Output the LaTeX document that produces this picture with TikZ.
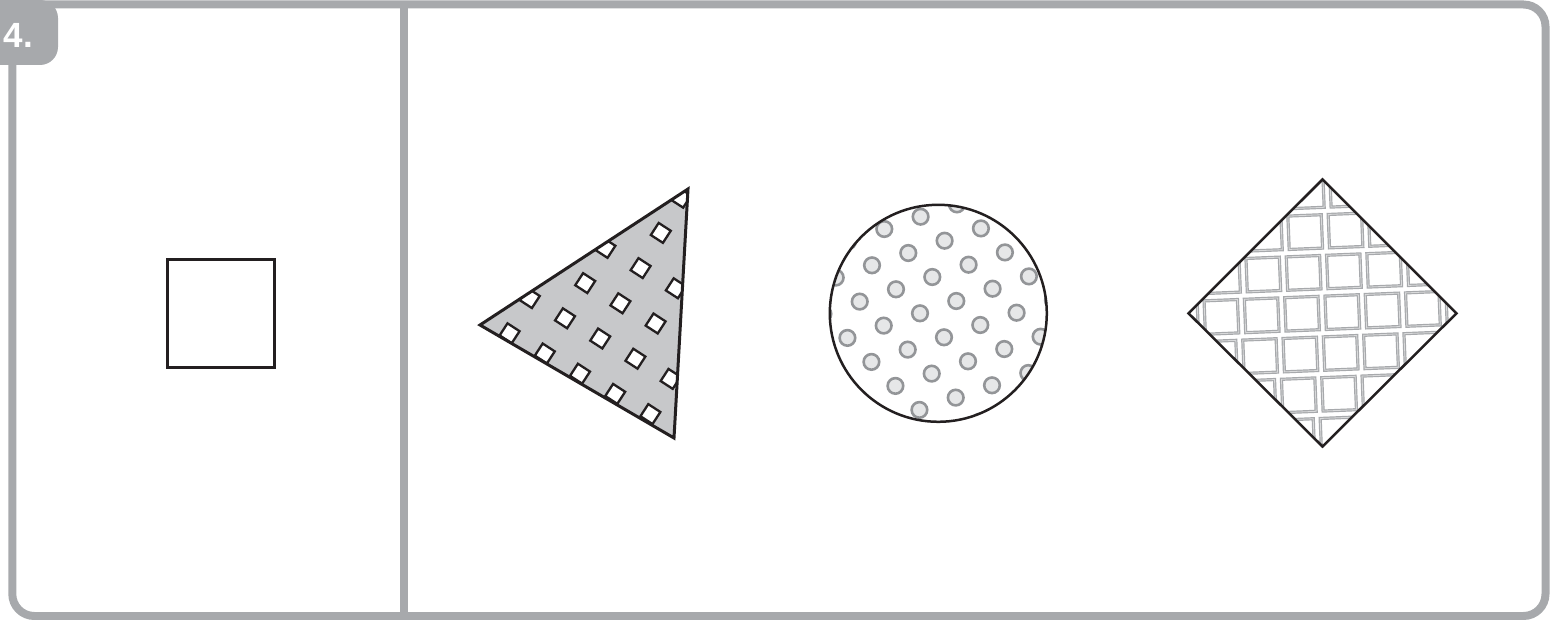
\documentclass[tikz,border=0pt]{standalone}
\usepackage{fontspec}
\setmainfont{Liberation Sans}
\definecolor{framegray}{HTML}{A7A9AC}
\definecolor{trifill}{HTML}{C7C8CA}
\definecolor{dotfill}{HTML}{E6E7E8}
\definecolor{dotline}{HTML}{939598}
\definecolor{ink}{HTML}{231F20}
\definecolor{innerlight}{HTML}{D9DADB}
\tikzset{
  frameline/.style={framegray, line width=8pt},
  outline/.style={draw=ink, line width=3pt, line join=miter},
  trisq/.style={draw=ink, fill=white, line width=2.3pt},
  dotstyle/.style={draw=dotline, fill=dotfill, line width=2.6pt},
  tilesq/.style={draw=framegray, line width=1.2pt, double=innerlight, double distance=0.8pt},
}
\begin{document}
\begin{tikzpicture}[x=1pt,y=-1pt]
\useasboundingbox (0,0) rectangle (1550,620);
\clip (0,0) rectangle (1550,620);
% frame
\draw[frameline, rounded corners=22pt] (12.3,4.5) rectangle (1545.5,616);
\draw[framegray, line width=8.5pt] (403.8,4.5) -- (403.8,616);
% tab
\fill[framegray, rounded corners=18pt] (-20,0) -- (58,0) -- (58,65) -- (-20,65) -- cycle;
\node[anchor=base west, inner sep=0pt, text=white, font=\fontsize{35}{40}\selectfont\bfseries] (num) at (3.5,48) {4.};
% reference square
\node[draw=ink, line width=3pt, minimum size=107pt, inner sep=0pt] (sq) at (221,313.5) {};
% triangle
\coordinate (tA) at (480,325);
\coordinate (tB) at (688,189);
\coordinate (tC) at (674,438);
\begin{scope}
  \clip (tA) -- (tB) -- (tC) -- cycle;
  \fill[trifill] (tA) -- (tB) -- (tC) -- cycle;
  \foreach \i in {-4,...,4} {
    \foreach \j in {-3,...,5} {
      \draw[trisq, shift={({565+(\i)*35.2+(\j)*20.2},{318.3+(\i)*20.2-(\j)*35.2})}, rotate=-33]
        (-7.2,-7.2) rectangle (7.2,7.2);
    }
  }
\end{scope}
\draw[outline] (tA) -- (tB) -- (tC) -- cycle;
% circle
\coordinate (cc) at (938.3,313.3);
\begin{scope}
  \clip (cc) circle[radius=108.5];
  \foreach \i in {-5,...,5} {
    \foreach \j in {-6,...,6} {
      \draw[dotstyle] ({920+(\i)*36.3+(\j)*24},{313.3-(\i)*12.3+(\j)*24}) circle[radius=7.8];
    }
  }
\end{scope}
\draw[draw=ink, line width=2.5pt] (cc) circle[radius=108.5];
% diamond
\coordinate (dT) at (1322.5,179.5);
\coordinate (dR) at (1456.5,313.3);
\coordinate (dB) at (1322.5,446.5);
\coordinate (dL) at (1188.5,313.3);
\begin{scope}
  \clip (dT) -- (dR) -- (dB) -- (dL) -- cycle;
  \foreach \i in {-4,...,4} {
    \foreach \j in {-4,...,4} {
      \draw[tilesq, shift={({1302+(\i)*40.3-(\j)*1.6},{313.7-(\i)*1.6+(\j)*40.8})}, rotate=2.3]
        (-16.7,-16.7) rectangle (16.7,16.7);
    }
  }
\end{scope}
\draw[draw=ink, line width=2.5pt, line join=miter] (dT) -- (dR) -- (dB) -- (dL) -- cycle;
\end{tikzpicture}
\end{document}
